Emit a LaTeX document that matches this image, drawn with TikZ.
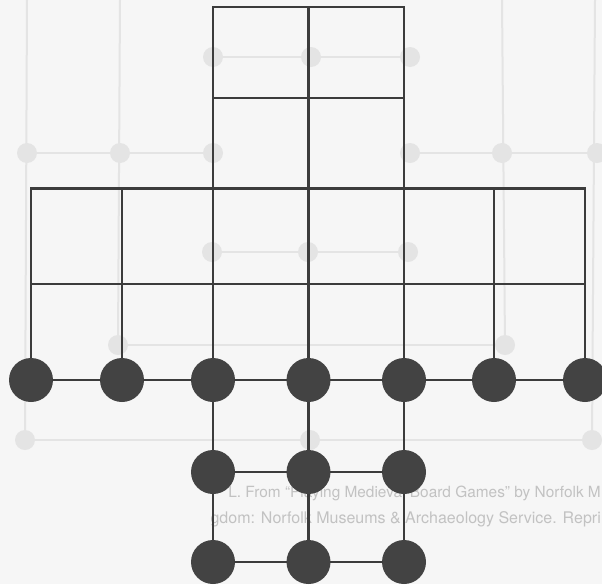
\documentclass[tikz,border=0pt]{standalone}
\usepackage{fontspec}
\setmainfont{TeX Gyre Heros}
\definecolor{paper}{HTML}{F6F6F6}
\definecolor{ink}{HTML}{3C3C3C}
\definecolor{dotink}{HTML}{434343}
\definecolor{ghost}{HTML}{E4E4E4}
\definecolor{ghosttext}{HTML}{C2C2C2}
\tikzset{
  gridline/.style={draw=ink, line width=2.3pt, line cap=rect},
  piece/.style={circle, fill=dotink, draw=none, minimum size=44pt, inner sep=0pt},
  ghostline/.style={draw=ghost, line width=2pt},
  ghostdot/.style={circle, fill=ghost, draw=none, minimum size=20pt, inner sep=0pt},
  ghostlabel/.style={text=ghosttext, font=\fontsize{16}{19}\selectfont, anchor=east, inner sep=0pt}
}
\begin{document}
\begin{tikzpicture}[x=1pt,y=-1pt]
\useasboundingbox (0,0) rectangle (602,584);
\clip (0,0) rectangle (602,584);
\fill[paper] (0,0) rectangle (602,584);

% ---- faint show-through from the other side of the page ----
\foreach \gx/\gy/\gn in {213/57/ga,311/57/gb,410/57/gc,
  27/153/gd,120/153/ge,213/153/gf,410/153/gg,502/153/gh,597/153/gi,
  212/252/gj,308/252/gk,408/252/gl,
  118/345/gm,505/345/gn,
  25/440/go,310/440/gp,592/440/gq}
  \coordinate (\gn) at (\gx,\gy);
\coordinate (gt1) at (27,0);
\coordinate (gt2) at (120,0);
\coordinate (gt3) at (502,0);
\coordinate (gt4) at (595,0);
\coordinate (gb1) at (118,345);
\draw[ghostline] (ga) -- (gc);
\draw[ghostline] (gd) -- (gf);
\draw[ghostline] (gg) -- (gi);
\draw[ghostline] (gj) -- (gl);
\draw[ghostline] (gm) -- (gn);
\draw[ghostline] (go) -- (gq);
\draw[ghostline] (gt1) -- (go);
\draw[ghostline] (gt2) -- (gb1);
\draw[ghostline] (gt3) -- (gn);
\draw[ghostline] (gt4) -- (gq);
\foreach \gn in {ga,gb,gc,gd,ge,gf,gg,gh,gi,gj,gk,gl,gm,gn,go,gp,gq}
  \node[ghostdot] (\gn-d) at (\gn) {};
\node[ghostlabel, font=\fontsize{15.4}{19}\selectfont] (ghostA) at (601,493) {L. From “Playing Medieval Board Games” by Norfolk M};
\node[ghostlabel] (ghostB) at (601,519) {gdom: Norfolk Museums \& Archaeology Service. Repri};

% ---- board: upper grid ----
\coordinate (t0) at (213,7);   \coordinate (t1) at (308.5,7);   \coordinate (t2) at (404,7);
\coordinate (m0) at (213,98);  \coordinate (m2) at (404,98);
\coordinate (w0) at (31,188.5);  \coordinate (w6) at (585,188.5);
\coordinate (v0) at (31,284);    \coordinate (v6) at (585,284);
\coordinate (u1) at (122,188.5); \coordinate (u5) at (494,188.5);

% pieces
\foreach \i/\x in {0/31,1/122,2/213,3/308.5,4/404,5/494,6/585}
  \coordinate (p\i) at (\x,380);
\foreach \i/\x in {0/213,1/308.5,2/404}{
  \coordinate (q\i) at (\x,472);
  \coordinate (r\i) at (\x,562);
}

\draw[gridline] (t0) rectangle (w0 -| t2);
\draw[gridline] (t1) -- (q1);
\draw[gridline] (t0) -- (r0);
\draw[gridline] (t2) -- (r2);
\draw[gridline] (q1) -- (r1);
\draw[gridline] (m0) -- (m2);
\draw[gridline] (w0) -- (w6);
\draw[gridline] (v0) -- (v6);
\draw[gridline] (w0) -- (p0);
\draw[gridline] (u1) -- (p1);
\draw[gridline] (u5) -- (p5);
\draw[gridline] (w6) -- (p6);

\foreach \i in {0,...,6} \node[piece] (d\i) at (p\i) {};
\foreach \i in {0,1,2} {
  \node[piece] (e\i) at (q\i) {};
  \node[piece] (f\i) at (r\i) {};
}
\draw[gridline] (d0) -- (d1);
\draw[gridline] (d1) -- (d2);
\draw[gridline] (d2) -- (d3);
\draw[gridline] (d3) -- (d4);
\draw[gridline] (d4) -- (d5);
\draw[gridline] (d5) -- (d6);
\draw[gridline] (e0) -- (e1);
\draw[gridline] (e1) -- (e2);
\draw[gridline] (f0) -- (f1);
\draw[gridline] (f1) -- (f2);
\end{tikzpicture}
\end{document}
